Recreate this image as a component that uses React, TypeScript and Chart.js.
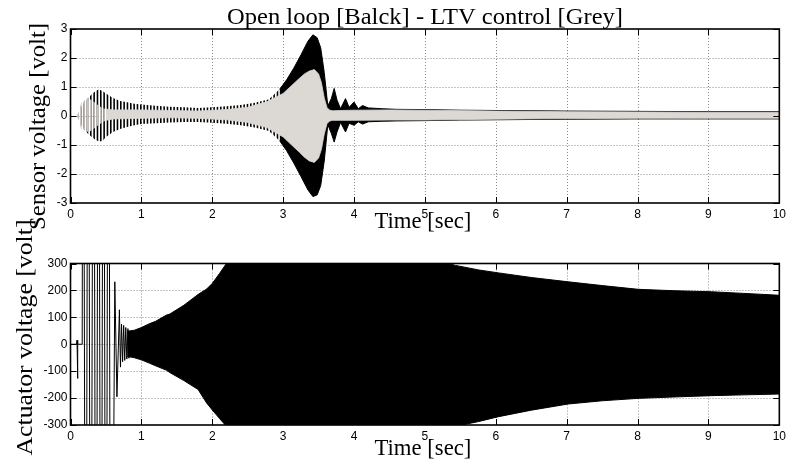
import { useEffect, useRef } from 'react';
import { Chart, registerables } from 'chart.js';

Chart.register(...registerables);

const W = 790;
const H = 469;

// Axis ticks
const timeTicks = [0, 1, 2, 3, 4, 5, 6, 7, 8, 9, 10];
const sensorTicks = [-3, -2, -1, 0, 1, 2, 3];
const actuatorTicks = [-300, -200, -100, 0, 100, 200, 300];

// Sensor voltage, open loop: oscillation envelope [s, V]
const olTime = [0.10, 0.15, 0.20, 0.25, 0.30, 0.35, 0.40, 0.45, 0.50, 0.60, 0.70, 0.80, 0.90, 1.00, 1.20, 1.40, 1.60, 1.80, 2.00, 2.20, 2.40, 2.60, 2.80, 2.95, 3.05, 3.15, 3.25, 3.35, 3.42, 3.48, 3.53, 3.58, 3.63, 3.68, 3.72, 3.76, 3.81, 3.88, 3.93, 4.00, 4.06, 4.12, 4.20, 4.40, 4.60, 5.00, 5.50, 6.00, 7.00, 8.00, 9.00, 10.00];
const olUpper = [0.05, 0.30, 0.50, 0.62, 0.75, 0.85, 0.92, 0.86, 0.78, 0.62, 0.52, 0.47, 0.42, 0.40, 0.35, 0.32, 0.30, 0.28, 0.30, 0.34, 0.38, 0.46, 0.58, 0.92, 1.25, 1.65, 2.10, 2.58, 2.80, 2.70, 2.35, 1.50, 0.35, 0.60, 0.95, 0.55, 0.25, 0.60, 0.30, 0.48, 0.25, 0.36, 0.28, 0.25, 0.23, 0.22, 0.20, 0.19, 0.17, 0.16, 0.15, 0.15];
const olLower = [-0.05, -0.30, -0.48, -0.62, -0.72, -0.82, -0.88, -0.86, -0.72, -0.55, -0.45, -0.38, -0.32, -0.28, -0.25, -0.22, -0.21, -0.21, -0.23, -0.27, -0.32, -0.40, -0.52, -0.85, -1.20, -1.62, -2.08, -2.55, -2.78, -2.72, -2.40, -1.55, -0.30, -0.60, -0.90, -0.55, -0.22, -0.55, -0.25, -0.32, -0.20, -0.28, -0.20, -0.18, -0.17, -0.16, -0.14, -0.13, -0.11, -0.10, -0.10, -0.10];

// Sensor voltage, LTV control: oscillation envelope [s, V]
const ltvTime = [0.10, 0.15, 0.20, 0.25, 0.30, 0.35, 0.40, 0.45, 0.50, 0.60, 0.80, 1.00, 1.40, 1.80, 2.20, 2.50, 2.77, 3.00, 3.12, 3.23, 3.30, 3.37, 3.44, 3.50, 3.54, 3.58, 3.62, 3.66, 3.70, 3.80, 4.00, 4.50, 5.00, 6.00, 7.00, 8.00, 9.00, 10.00];
const ltvUpper = [0.05, 0.45, 0.55, 0.60, 0.55, 0.45, 0.35, 0.28, 0.24, 0.21, 0.21, 0.21, 0.19, 0.17, 0.22, 0.30, 0.49, 0.78, 1.05, 1.30, 1.45, 1.55, 1.60, 1.45, 1.15, 0.62, 0.28, 0.20, 0.18, 0.19, 0.20, 0.21, 0.20, 0.17, 0.15, 0.14, 0.13, 0.13];
const ltvLower = [-0.05, -0.45, -0.50, -0.55, -0.50, -0.40, -0.30, -0.22, -0.15, -0.10, -0.09, -0.08, -0.06, -0.08, -0.13, -0.22, -0.40, -0.72, -1.00, -1.25, -1.42, -1.55, -1.60, -1.45, -1.15, -0.62, -0.25, -0.17, -0.15, -0.15, -0.15, -0.14, -0.14, -0.11, -0.09, -0.08, -0.08, -0.08];

// Actuator voltage, start-up swings (individual peaks) [s, V]
const actEarlyTime = [0, 0.085, 0.092, 0.098, 0.105, 0.165, 0.178, 0.215, 0.25, 0.285, 0.325, 0.36, 0.395, 0.43, 0.465, 0.50, 0.535, 0.57, 0.625, 0.655, 0.69, 0.705, 0.72, 0.735, 0.75, 0.765, 0.78, 0.795, 0.81, 0.825, 0.84];
const actEarlyVolt = [0, 0, 15, -127, 0, 0, 2000, -2000, 2000, -2000, 2000, -2000, 2000, -2000, 2000, -2000, 2000, -2000, 232, -195, 128, -85, 75, -65, 70, -60, 62, -55, 58, -52, 50];

// Actuator voltage: oscillation envelope [s, V]
const actTime = [0.80, 0.90, 1.00, 1.12, 1.20, 1.35, 1.40, 1.60, 1.80, 1.92, 2.00, 2.10, 2.20, 2.30, 5.00, 5.20, 5.43, 5.76, 6.04, 6.50, 7.02, 7.50, 8.01, 8.50, 9.04, 9.50, 10.00];
const actUpper = [48, 52, 62, 77, 85, 108, 112, 145, 185, 205, 226, 262, 300, 340, 340, 310, 293, 276, 265, 248, 232, 218, 204, 199, 195, 189, 182];
const actLower = [-45, -50, -58, -71, -80, -96, -105, -135, -168, -218, -244, -275, -305, -340, -340, -330, -305, -287, -269, -245, -222, -210, -201, -196, -191, -188, -185];

const GREY = '#dcd8d4';
const SERIF = "'Liberation Serif', 'Times New Roman', serif";
const SANS = "'Liberation Sans', Arial, sans-serif";

function pts(t: number[], v: number[], from = -Infinity, to = Infinity) {
  const out: { x: number; y: number }[] = [];
  for (let i = 0; i < t.length; i++) {
    if (t[i] >= from && t[i] <= to) out.push({ x: t[i], y: v[i] });
  }
  return out;
}

// Vertical hatching that stands in for a resolved oscillation
function stripes(color: string) {
  const c = document.createElement('canvas');
  c.width = 10;
  c.height = 4;
  const g = c.getContext('2d')!;
  g.fillStyle = color;
  [0, 3.33, 6.67].forEach((x) => g.fillRect(x, 0, 1.6, 4));
  return g.createPattern(c, 'repeat')!;
}

function band(upper: any[], lower: any[], fill: any, order: number, edge = 0, edgeColor = '#000') {
  return [
    { data: upper, fill: '+1', backgroundColor: fill, borderColor: edgeColor, borderWidth: edge, order, pointRadius: 0, tension: 0 },
    { data: lower, fill: false, backgroundColor: fill, borderColor: edgeColor, borderWidth: edge, order, pointRadius: 0, tension: 0 },
  ];
}

// Serif text stretched to a given width
function fitText(ctx: CanvasRenderingContext2D, text: string, x: number, y: number, width: number) {
  const w = ctx.measureText(text).width;
  ctx.save();
  ctx.translate(x, y);
  ctx.scale(width / w, 1);
  ctx.fillText(text, 0, 0);
  ctx.restore();
}

type FrameCfg = {
  yTicks: number[];
  yLabel: string;
  yLabelWidth: number;
  yLabelX: number;
  yLabelY: number;
  xLabelY: number;
  title?: string;
};

function framePlugin(cfg: FrameCfg) {
  return {
    id: 'frame',
    beforeDatasetsDraw(chart: any) {
      const { ctx, chartArea: a, scales } = chart;
      ctx.save();
      ctx.strokeStyle = '#8a8a8a';
      ctx.lineWidth = 1;
      ctx.setLineDash([1, 2]);
      for (const v of timeTicks.slice(1, -1)) {
        const x = Math.round(scales.x.getPixelForValue(v)) + 0.5;
        ctx.beginPath();
        ctx.moveTo(x, a.top);
        ctx.lineTo(x, a.bottom);
        ctx.stroke();
      }
      for (const v of cfg.yTicks.slice(1, -1)) {
        const y = Math.round(scales.y.getPixelForValue(v)) + 0.5;
        ctx.beginPath();
        ctx.moveTo(a.left, y);
        ctx.lineTo(a.right, y);
        ctx.stroke();
      }
      ctx.restore();
    },
    afterDatasetsDraw(chart: any) {
      const { ctx, chartArea: a, scales } = chart;
      ctx.save();
      ctx.strokeStyle = '#000';
      ctx.lineWidth = 1;
      const tl = 6;
      for (const v of timeTicks) {
        const x = Math.round(scales.x.getPixelForValue(v)) + 0.5;
        ctx.beginPath();
        ctx.moveTo(x, a.bottom);
        ctx.lineTo(x, a.bottom - tl);
        ctx.moveTo(x, a.top);
        ctx.lineTo(x, a.top + tl);
        ctx.stroke();
      }
      for (const v of cfg.yTicks) {
        const y = Math.round(scales.y.getPixelForValue(v)) + 0.5;
        ctx.beginPath();
        ctx.moveTo(a.left, y);
        ctx.lineTo(a.left + tl, y);
        ctx.moveTo(a.right, y);
        ctx.lineTo(a.right - tl, y);
        ctx.stroke();
      }
      ctx.lineWidth = 1.6;
      ctx.strokeRect(a.left, a.top, a.right - a.left, a.bottom - a.top);

      ctx.fillStyle = '#000';
      ctx.font = `23px ${SERIF}`;
      ctx.textAlign = 'center';
      ctx.textBaseline = 'alphabetic';
      const cx = (a.left + a.right) / 2;
      if (cfg.title) fitText(ctx, cfg.title, 425, 24, 396);
      fitText(ctx, 'Time [sec]', cx - 2, cfg.xLabelY, 97);
      ctx.translate(cfg.yLabelX, cfg.yLabelY);
      ctx.rotate(-Math.PI / 2);
      fitText(ctx, cfg.yLabel, 0, 0, cfg.yLabelWidth);
      ctx.restore();
    },
  };
}

function scaleOptions(min: number, max: number, step: number, size: (s: any) => void, pad: number) {
  return {
    type: 'linear' as const,
    min,
    max,
    grid: { display: false, drawTicks: false },
    border: { display: false },
    ticks: { stepSize: step, color: '#000', padding: pad, font: { family: SANS, size: 12 }, autoSkip: false, maxRotation: 0 },
    afterFit: size,
  };
}

export default function App() {
  const topRef = useRef<HTMLCanvasElement>(null);
  const botRef = useRef<HTMLCanvasElement>(null);

  useEffect(() => {
    const blackHatch = stripes('#000');
    const greyHatch = stripes('#c9c4bf');

    const sensor = new Chart(topRef.current!, {
      type: 'line',
      data: {
        datasets: [
          ...band(pts(olTime, olUpper, 0, 2.95), pts(olTime, olLower, 0, 2.95), blackHatch, 4),
          ...band(pts(olTime, olUpper, 2.95), pts(olTime, olLower, 2.95), '#000', 3, 1),
          ...band(pts(ltvTime, ltvUpper, 0, 0.5), pts(ltvTime, ltvLower, 0, 0.5), greyHatch, 2),
          ...band(pts(ltvTime, ltvUpper, 0.5), pts(ltvTime, ltvLower, 0.5), GREY, 1, 0.8, GREY),
        ] as any,
      },
      options: {
        animation: false,
        responsive: false,
        devicePixelRatio: 1,
        layout: { padding: { left: 0, right: 8, top: 29, bottom: H - 203 - 31 } },
        scales: {
          x: scaleOptions(0, 10, 1, (s) => { s.height = 31; }, 4),
          y: scaleOptions(-3, 3, 1, (s) => { s.width = 70.5; }, 3),
        },
        plugins: { legend: { display: false }, tooltip: { enabled: false }, title: { display: false } },
      } as any,
      plugins: [
        framePlugin({
          yTicks: sensorTicks,
          yLabel: 'Sensor voltage [volt]',
          yLabelWidth: 207,
          yLabelX: 44.5,
          yLabelY: 126.5,
          xLabelY: 227.5,
          title: 'Open loop [Balck] - LTV control [Grey]',
        }),
      ],
    });

    const actuator = new Chart(botRef.current!, {
      type: 'line',
      data: {
        datasets: [
          { data: pts(actEarlyTime, actEarlyVolt), borderColor: '#000', borderWidth: 1, fill: false, pointRadius: 0, tension: 0, order: 0 },
          ...band(pts(actTime, actUpper), pts(actTime, actLower), '#000', 1, 1),
        ] as any,
      },
      options: {
        animation: false,
        responsive: false,
        devicePixelRatio: 1,
        layout: { padding: { left: 0, right: 8, top: 263.5, bottom: H - 425 - 31 } },
        scales: {
          x: scaleOptions(0, 10, 1, (s) => { s.height = 31; }, 4),
          y: scaleOptions(-300, 300, 100, (s) => { s.width = 70.5; }, 3),
        },
        plugins: { legend: { display: false }, tooltip: { enabled: false }, title: { display: false } },
      } as any,
      plugins: [
        framePlugin({
          yTicks: actuatorTicks,
          yLabel: 'Actuator voltage [volt]',
          yLabelWidth: 236,
          yLabelX: 31.5,
          yLabelY: 337.5,
          xLabelY: 455,
        }),
      ],
    });

    return () => {
      sensor.destroy();
      actuator.destroy();
    };
  }, []);

  const canvasStyle = { position: 'absolute' as const, left: 0, top: 0, width: W, height: H };
  return (
    <div style={{ position: 'fixed', left: 0, top: 0, width: W, height: H, background: '#fff' }}>
      <canvas ref={topRef} width={W} height={H} style={canvasStyle} />
      <canvas ref={botRef} width={W} height={H} style={canvasStyle} />
    </div>
  );
}
